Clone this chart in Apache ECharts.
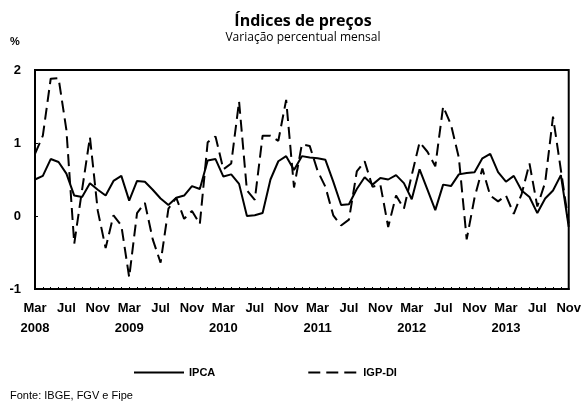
<!DOCTYPE html>
<html lang="pt">
<head>
    <meta charset="UTF-8">
    <title>Índices de preços</title>
    <script src="https://cdn.jsdelivr.net/npm/echarts@6/dist/echarts.min.js"></script>
    <style>
        html, body { margin: 0; padding: 0; background: #fff; }
        #chart { width: 584px; height: 405px; }
    </style>
</head>
<body>
    <div id="chart"></div>
    <script>
        // meses de Mar/2008 a Nov/2013
        var anos = [2008, 2009, 2010, 2011, 2012, 2013];
        var meses = ['Jan', 'Fev', 'Mar', 'Abr', 'Mai', 'Jun', 'Jul', 'Ago', 'Set', 'Out', 'Nov', 'Dez'];
        var categorias = [];
        anos.forEach(function (a) {
            meses.forEach(function (m, i) {
                if (a === 2008 && i < 2) return;
                if (a === 2013 && i > 10) return;
                categorias.push(m + '/' + a);
            });
        });

        var ipca = [
            0.50, 0.55, 0.78, 0.74, 0.58, 0.28, 0.26, 0.45, 0.36, 0.28,
            0.48, 0.55, 0.21, 0.48, 0.47, 0.36, 0.24, 0.15, 0.25, 0.28, 0.41, 0.37,
            0.76, 0.78, 0.54, 0.57, 0.44, 0.00, 0.01, 0.04, 0.50, 0.75, 0.82, 0.63,
            0.82, 0.80, 0.79, 0.77, 0.47, 0.15, 0.16, 0.37, 0.53, 0.43, 0.52, 0.50,
            0.56, 0.45, 0.23, 0.64, 0.36, 0.08, 0.43, 0.41, 0.57, 0.59, 0.60, 0.79,
            0.85, 0.60, 0.47, 0.55, 0.35, 0.26, 0.04, 0.24, 0.35, 0.56, -0.15
        ];
        var igpdi = [
            0.85, 1.10, 1.88, 1.89, 1.18, -0.38, 0.36, 1.08, 0.07, -0.44,
            0.01, -0.13, -0.84, 0.04, 0.18, -0.32, -0.64, 0.10, 0.25, -0.04, 0.07, -0.11,
            1.01, 1.09, 0.64, 0.72, 1.57, 0.35, 0.22, 1.10, 1.10, 1.03, 1.59, 0.39,
            0.98, 0.96, 0.62, 0.40, 0.01, -0.13, -0.05, 0.61, 0.75, 0.40, 0.43, -0.15,
            0.28, 0.10, 0.56, 1.01, 0.88, 0.68, 1.50, 1.25, 0.80, -0.32, 0.25, 0.65,
            0.28, 0.20, 0.28, 0.03, 0.30, 0.72, 0.13, 0.46, 1.36, 0.63, -0.10
        ];

        var fonte = '"Liberation Sans", Arial, sans-serif';
        var chart = echarts.init(document.getElementById('chart'));

        var option = {
            backgroundColor: '#fff',
            animation: false,
            title: {
                text: 'Índices de preços',
                subtext: 'Variação percentual mensal',
                left: 298,
                textAlign: 'center',
                top: 8,
                itemGap: 3,
                textStyle: { fontFamily: '"Open Sans", sans-serif', fontSize: 16, fontWeight: 'bold', color: '#000' },
                subtextStyle: { fontFamily: '"Open Sans", sans-serif', fontSize: 12, color: '#000' }
            },
            legend: {
                left: 128,
                top: 362,
                itemWidth: 50,
                itemHeight: 14,
                itemGap: 92,
                itemStyle: { opacity: 0 },
                textStyle: { fontFamily: fonte, fontSize: 11, fontWeight: 'bold', color: '#000' },
                data: ['IPCA', 'IGP-DI']
            },
            grid: {
                left: 35,
                right: 15,
                top: 70,
                bottom: 116,
                show: true,
                borderColor: '#000',
                borderWidth: 2
            },
            xAxis: {
                type: 'category',
                boundaryGap: false,
                data: categorias,
                axisLine: { onZero: false, lineStyle: { color: '#000', width: 2 } },
                axisTick: { show: true, inside: true, length: 2, interval: 0, lineStyle: { color: '#000' } },
                axisLabel: {
                    interval: 3,
                    margin: 9,
                    color: '#000',
                    fontFamily: fonte,
                    fontSize: 13,
                    fontWeight: 'bold',
                    lineHeight: 20,
                    formatter: function (v) {
                        var p = v.split('/');
                        return p[0] === 'Mar' ? p[0] + '\n' + p[1] : p[0];
                    }
                },
                splitLine: { show: false }
            },
            yAxis: {
                type: 'value',
                min: -1,
                max: 2,
                interval: 1,
                axisLine: { show: true, lineStyle: { color: '#000', width: 2 } },
                axisTick: { show: true, inside: true, length: 3, lineStyle: { color: '#000' } },
                axisLabel: { color: '#000', fontFamily: fonte, fontSize: 13, fontWeight: 'bold', margin: 14 },
                splitLine: { show: false }
            },
            graphic: [
                { type: 'text', left: 10, top: 36, style: { text: '%', font: 'bold 11px ' + fonte, fill: '#000' } },
                { type: 'text', left: 10, top: 390, style: { text: 'Fonte: IBGE, FGV e Fipe', font: '11px ' + fonte, fill: '#000' } }
            ],
            series: [
                {
                    name: 'IPCA',
                    type: 'line',
                    data: ipca,
                    symbol: 'none',
                    lineStyle: { color: '#000', width: 2, type: 'solid' },
                    itemStyle: { color: '#000' }
                },
                {
                    name: 'IGP-DI',
                    type: 'line',
                    data: igpdi,
                    symbol: 'none',
                    lineStyle: { color: '#000', width: 2, type: [12, 6] },
                    itemStyle: { color: '#000' }
                }
            ]
        };

        chart.setOption(option);
    </script>
</body>
</html>
